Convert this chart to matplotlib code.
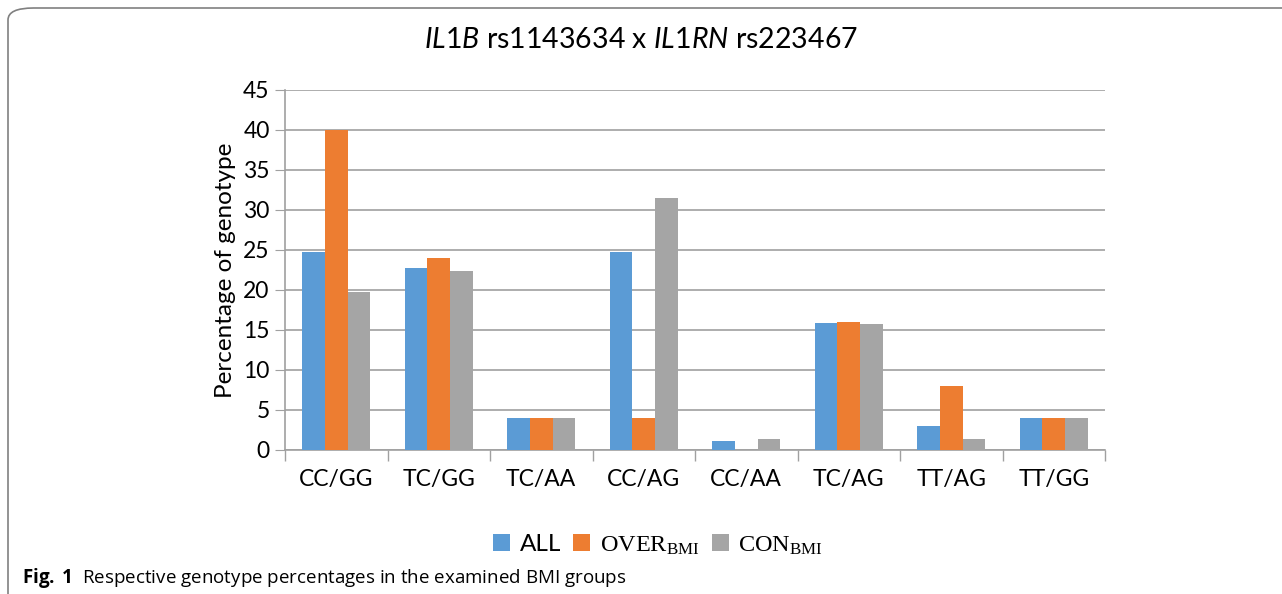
import numpy as np
import matplotlib
matplotlib.use('Agg')
import matplotlib.pyplot as plt
from matplotlib.patches import FancyBboxPatch

matplotlib.rcParams.update({'font.family': ['Lato', 'DejaVu Sans'],
                            'mathtext.fontset': 'custom',
                            'mathtext.rm': 'Lato',
                            'mathtext.it': 'Lato:italic',
                            'mathtext.bf': 'Open Sans:bold',
                            'mathtext.sf': 'Liberation Serif'})

genotypes = ['CC/GG', 'TC/GG', 'TC/AA', 'CC/AG', 'CC/AA', 'TC/AG', 'TT/AG', 'TT/GG']
all_vals = [24.75, 22.75, 4.0, 24.75, 1.1, 15.9, 3.05, 4.0]
over_vals = [40.0, 24.0, 4.0, 4.0, 0.0, 16.0, 8.0, 4.0]
con_vals = [19.75, 22.4, 3.95, 31.5, 1.35, 15.8, 1.35, 3.95]
series = ['ALL', r'$\mathsf{OVER}_{\mathsf{BMI}}$', r'$\mathsf{CON}_{\mathsf{BMI}}$']
colors = ['#5B9BD5', '#ED7D31', '#A5A5A5']

fig = plt.figure(figsize=(12.82, 5.94), dpi=100)
ax = fig.add_axes([285 / 1282, 1 - 450 / 594, 820 / 1282, 360 / 594])

x = np.arange(len(genotypes))
w = 0.22
for k, (vals, lab, c) in enumerate(zip([all_vals, over_vals, con_vals], series, colors)):
    ax.bar(x + (k - 1) * w, vals, width=w, color=c, label=lab, zorder=3)

ax.set_xlim(-0.5, len(genotypes) - 0.5)
ax.set_ylim(0, 45)
ax.set_yticks(np.arange(0, 46, 5))
ax.set_xticks(x)
ax.set_xticklabels(genotypes)
ax.set_xticks(np.arange(-0.5, len(genotypes)), minor=True)
ax.tick_params(axis='x', which='major', length=0, labelsize=16.5, pad=14)
ax.tick_params(axis='x', which='minor', length=8, color='#A0A0A0', width=1)
ax.tick_params(axis='y', length=7, color='#A0A0A0', labelsize=16.5, pad=4)
ax.grid(axis='y', color='#A0A0A0', linewidth=1.2, zorder=0)
for s in ['top', 'right']:
    ax.spines[s].set_visible(False)
for s in ['left', 'bottom']:
    ax.spines[s].set_color('#A0A0A0')
    ax.spines[s].set_linewidth(1.2)
ax.set_ylabel('Percentage of genotype', fontsize=17.5, labelpad=5)

fig.text(0.5, 1 - 40 / 594, r'$\it{IL1B}$ rs1143634 x $\it{IL1RN}$ rs223467',
         ha='center', va='center', fontsize=20.5)

ax.legend(loc='center', bbox_to_anchor=(0.455, -0.265), ncol=3, frameon=False,
          handlelength=0.7, handleheight=0.7, handletextpad=0.4,
          columnspacing=0.5, prop={'size': 17.5})

box = FancyBboxPatch((8 / 1282, -0.05), 1.2, 1 - 8 / 594 + 0.05,
                     boxstyle='round,pad=0,rounding_size=0.02',
                     transform=fig.transFigure, fill=False,
                     edgecolor='#808080', linewidth=1.2)
fig.patches.append(box)

fig.text(22 / 1282, 1 - 578 / 594, r'$\bf{Fig.\ 1}$  Respective genotype percentages in the examined BMI groups',
         ha='left', va='center', fontsize=13.5, family=['Open Sans', 'DejaVu Sans'])

fig.savefig('out.png', dpi=100)
